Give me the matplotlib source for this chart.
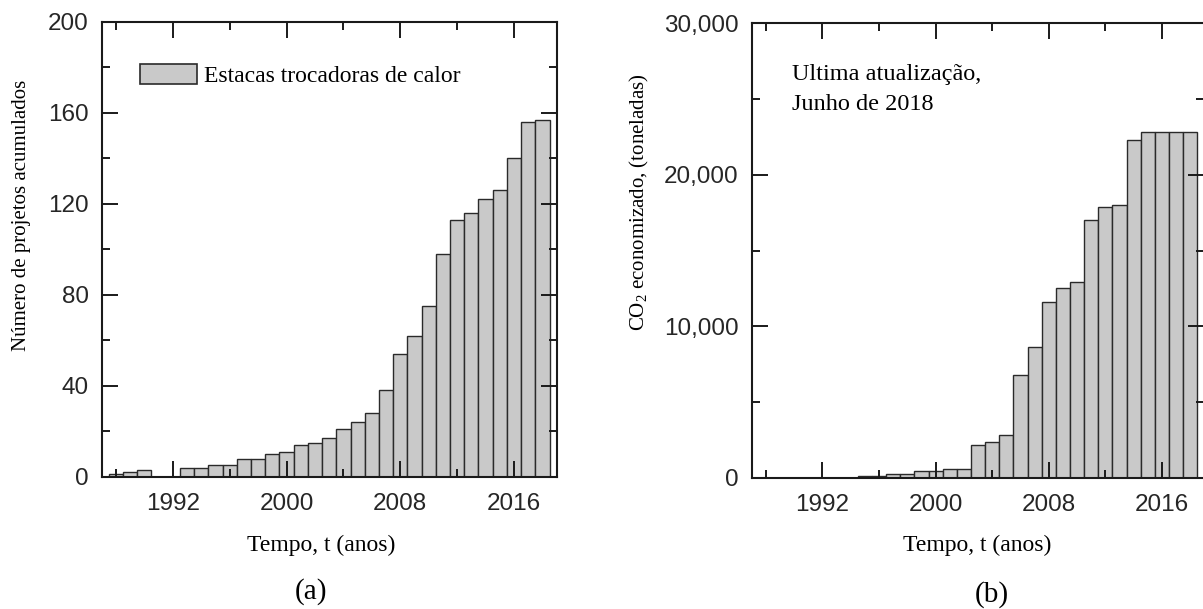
import matplotlib
matplotlib.use("Agg")
import matplotlib.pyplot as plt
from matplotlib.ticker import MultipleLocator, StrMethodFormatter

# (a) cumulative number of energy pile projects
anos_a = list(range(1988, 2019))
projetos = [1, 2, 3, 0, 0, 4, 4, 5, 5, 8, 8, 10, 11, 14, 15, 17, 21, 24, 28,
            38, 54, 62, 75, 98, 113, 116, 122, 126, 140, 156, 157]

# (b) cumulative CO2 saved (tonnes)
anos_b = list(range(1995, 2019))
co2 = [100, 100, 250, 250, 450, 450, 550, 550, 2150, 2350, 2800, 6800, 8600,
       11600, 12500, 12900, 17000, 17850, 18000, 22300, 22800, 22800, 22800, 22800]

legenda = "Estacas trocadoras de calor"
nota = "Ultima atualização,\nJunho de 2018"

plt.rcParams["mathtext.fontset"] = "custom"
plt.rcParams["mathtext.rm"] = "Liberation Serif"
plt.rcParams["mathtext.it"] = "Liberation Serif:italic"

W, H = 1203, 609
fig = plt.figure(figsize=(W / 100, H / 100), dpi=100)


def px(x0, y0, x1, y1):
    # pixel box (left, top, right, bottom) -> figure fraction rect
    return [x0 / W, 1 - y1 / H, (x1 - x0) / W, (y1 - y0) / H]


ax1 = fig.add_axes(px(101.7, 21.7, 556.7, 476.7))
ax2 = fig.add_axes(px(751.7, 23.3, 1204.4, 477.7))

bar_kw = dict(width=1.0, color="#c9c9c9", edgecolor="#2a2a2a", linewidth=1.0)
ax1.bar(anos_a, projetos, label=legenda, **bar_kw)
ax2.bar(anos_b, co2, **bar_kw)

sans = "Liberation Sans"
serif = "Liberation Serif"

ax1.set_ylim(0, 200)
ax1.yaxis.set_major_locator(MultipleLocator(40))
ax1.yaxis.set_minor_locator(MultipleLocator(20))

ax2.set_ylim(0, 30000)
ax2.yaxis.set_major_locator(MultipleLocator(10000))
ax2.yaxis.set_minor_locator(MultipleLocator(5000))
ax2.yaxis.set_major_formatter(StrMethodFormatter("{x:,.0f}"))

for ax in (ax1, ax2):
    ax.set_xlim(1987, 2019)
    ax.xaxis.set_major_locator(MultipleLocator(8))
    ax.xaxis.set_minor_locator(MultipleLocator(4))
    ax.tick_params(which="both", direction="in", top=True, right=True,
                   width=1.4, color="#1a1a1a")
    ax.tick_params(which="major", length=11.3, labelsize=17.5,
                   labelcolor="#262626")
    ax.tick_params(which="minor", length=5.8)
    ax.tick_params(axis="x", which="major", pad=11.5)
    ax.tick_params(axis="y", which="major", pad=9.5)
    for lab in ax.get_xticklabels() + ax.get_yticklabels():
        lab.set_fontfamily(sans)
    for sp in ax.spines.values():
        sp.set_linewidth(1.5)
        sp.set_color("#1a1a1a")

leg = ax1.legend(loc="upper left", bbox_to_anchor=(0.084, 0.907),
                 frameon=False, borderpad=0, borderaxespad=0,
                 handlelength=2.4, handleheight=0.9, handletextpad=0.3,
                 prop=dict(family=serif, size=17))
for h in leg.legend_handles:
    h.set_linewidth(1.2)

ax2.text(0.088, 0.91, nota, transform=ax2.transAxes, ha="left", va="top",
         family=serif, fontsize=17.5, linespacing=1.55)

fig.text(22 / W, 1 - 215 / H, "Número de projetos acumulados", rotation=90,
         ha="center", va="center", family=serif, fontsize=15)
fig.text(639 / W, 1 - 202 / H, "CO$_2$ economizado, (toneladas)", rotation=90,
         ha="center", va="center", family=serif, fontsize=15)
fig.text(321 / W, 1 - 545 / H, "Tempo, t (anos)", ha="center", va="center",
         family=serif, fontsize=17)
fig.text(977 / W, 1 - 545 / H, "Tempo, t (anos)", ha="center", va="center",
         family=serif, fontsize=17)
fig.text(311 / W, 1 - 592 / H, "(a)", ha="center", va="center",
         family=serif, fontsize=21)
fig.text(992 / W, 1 - 595 / H, "(b)", ha="center", va="center",
         family=serif, fontsize=21)

fig.savefig("out.png", dpi=100, facecolor="white")
